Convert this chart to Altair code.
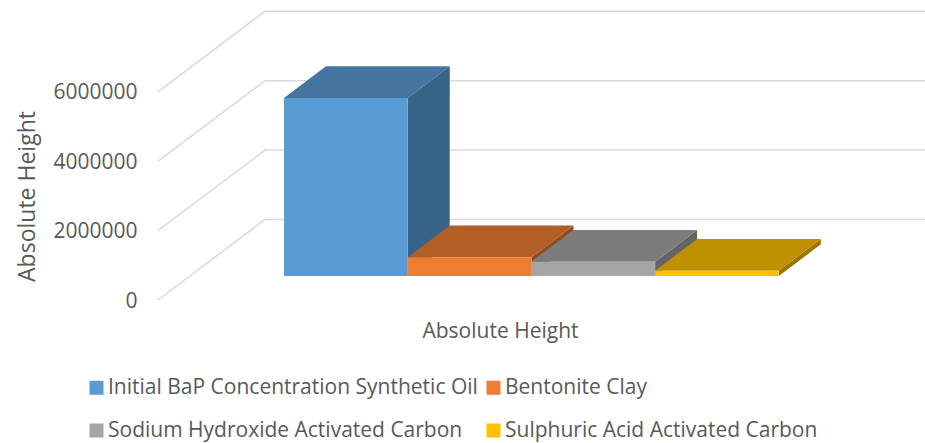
import altair as alt
import pandas as pd

# Series names, measured heights and face colours of the pseudo-3D columns
series = [
    "Initial BaP Concentration Synthetic Oil",
    "Bentonite Clay",
    "Sodium Hydroxide Activated Carbon",
    "Sulphuric Acid Activated Carbon",
]
heights = [5130000, 540000, 412000, 153000]
front_colors = ["#5b9bd5", "#ed7d31", "#a5a5a5", "#ffc000"]
top_colors = ["#4475a1", "#b25e25", "#7c7c7c", "#bf9000"]
side_colors = ["#386388", "#904c1e", "#646464", "#9b7500"]
ticks = [0, 2000000, 4000000, 6000000]

# Oblique projection: depth shifts a point right (in column widths) and up (in value units)
FLOOR = 691000
BAR_START = 1.0186
BAR_DX = 0.3395
BAR_DY = 913000
WALL_DX = 0.865
WALL_DY = 2320000
X_MAX = 6.2
Y_MAX = 8645000

FONT = "Open Sans"
TEXT = "#595959"

front, top, side, grid = [], [], [], []
for i, (name, h) in enumerate(zip(series, heights)):
    left = BAR_START + i
    right = left + 1
    front.append(dict(name=name, x=left, x2=right, y=FLOOR, y2=FLOOR + h))
    for d in (0, 1):
        top.append(dict(name=name, c=top_colors[i],
                        x=left + d * BAR_DX, x2=right + d * BAR_DX,
                        y=FLOOR + h + d * BAR_DY))
        side.append(dict(name=name, c=side_colors[i],
                         x=right + d * BAR_DX,
                         y=FLOOR + d * BAR_DY, y2=FLOOR + h + d * BAR_DY))
for t in ticks:
    grid.append(dict(t=t, i=0, x=0, y=t))
    grid.append(dict(t=t, i=1, x=WALL_DX, y=t + WALL_DY))
    grid.append(dict(t=t, i=2, x=X_MAX, y=t + WALL_DY))

xs = alt.Scale(domain=[0, X_MAX], nice=False, zero=False)
ys = alt.Scale(domain=[0, Y_MAX], nice=False, zero=False)

wall = alt.Chart(pd.DataFrame(grid)).mark_line(color="#d9d9d9", strokeWidth=1.5).encode(
    x=alt.X("x:Q", scale=xs, axis=alt.Axis(
        title="Absolute Height", labels=False, ticks=False, domain=False, grid=False,
        titleFont=FONT, titleFontSize=21, titleFontWeight="normal", titleColor=TEXT,
        titleX=342, titleY=31, titleAnchor="middle", titleAlign="center", titleBaseline="middle")),
    y=alt.Y("y:Q", scale=ys, axis=alt.Axis(
        title="Absolute Height", values=ticks, format="d", ticks=False, domain=False, grid=False,
        labelFont=FONT, labelFontSize=21, labelColor=TEXT, labelPadding=21, labelOffset=1,
        titleFont=FONT, titleFontSize=23, titleFontWeight="normal", titleColor=TEXT,
        titleX=-131, titleY=196, titleAngle=-90, titleAlign="center", titleBaseline="middle")),
    detail="t:N",
    order="i:Q",
)

sides = alt.Chart(pd.DataFrame(side)).mark_area(orient="vertical").encode(
    x=alt.X("x:Q", scale=xs, axis=None),
    y=alt.Y("y:Q", scale=ys, axis=None),
    y2="y2:Q",
    color=alt.Color("c:N", scale=None),
    detail="name:N",
)

tops = alt.Chart(pd.DataFrame(top)).mark_area(orient="horizontal").encode(
    y=alt.Y("y:Q", scale=ys, axis=None),
    x=alt.X("x:Q", scale=xs, axis=None),
    x2="x2:Q",
    color=alt.Color("c:N", scale=None),
    detail="name:N",
)

fronts = alt.Chart(pd.DataFrame(front)).mark_rect().encode(
    x=alt.X("x:Q", scale=xs, axis=None),
    x2="x2:Q",
    y=alt.Y("y:Q", scale=ys, axis=None),
    y2="y2:Q",
    color=alt.Color("name:N", sort=series,
                    scale=alt.Scale(domain=series, range=front_colors),
                    legend=alt.Legend(
                        title=None, orient="none", legendX=-72, legendY=377, columns=2,
                        direction="horizontal",
                        symbolType="square", symbolSize=196, symbolStrokeWidth=0,
                        labelFont=FONT, labelFontSize=21, labelColor=TEXT, labelLimit=500,
                        labelOffset=1, rowPadding=21, columnPadding=5)),
)

chart = (
    alt.layer(wall, sides, tops, fronts)
    .resolve_scale(color="independent")
    .resolve_axis(x="independent", y="independent")
    .properties(width=767, height=300,
                padding={"left": 158, "top": 0, "right": 0, "bottom": 143},
                autosize=alt.AutoSizeParams(type="none"))
    .configure_view(stroke=None)
)

chart.save("out.html", embed_options={"renderer": "svg", "actions": False})
